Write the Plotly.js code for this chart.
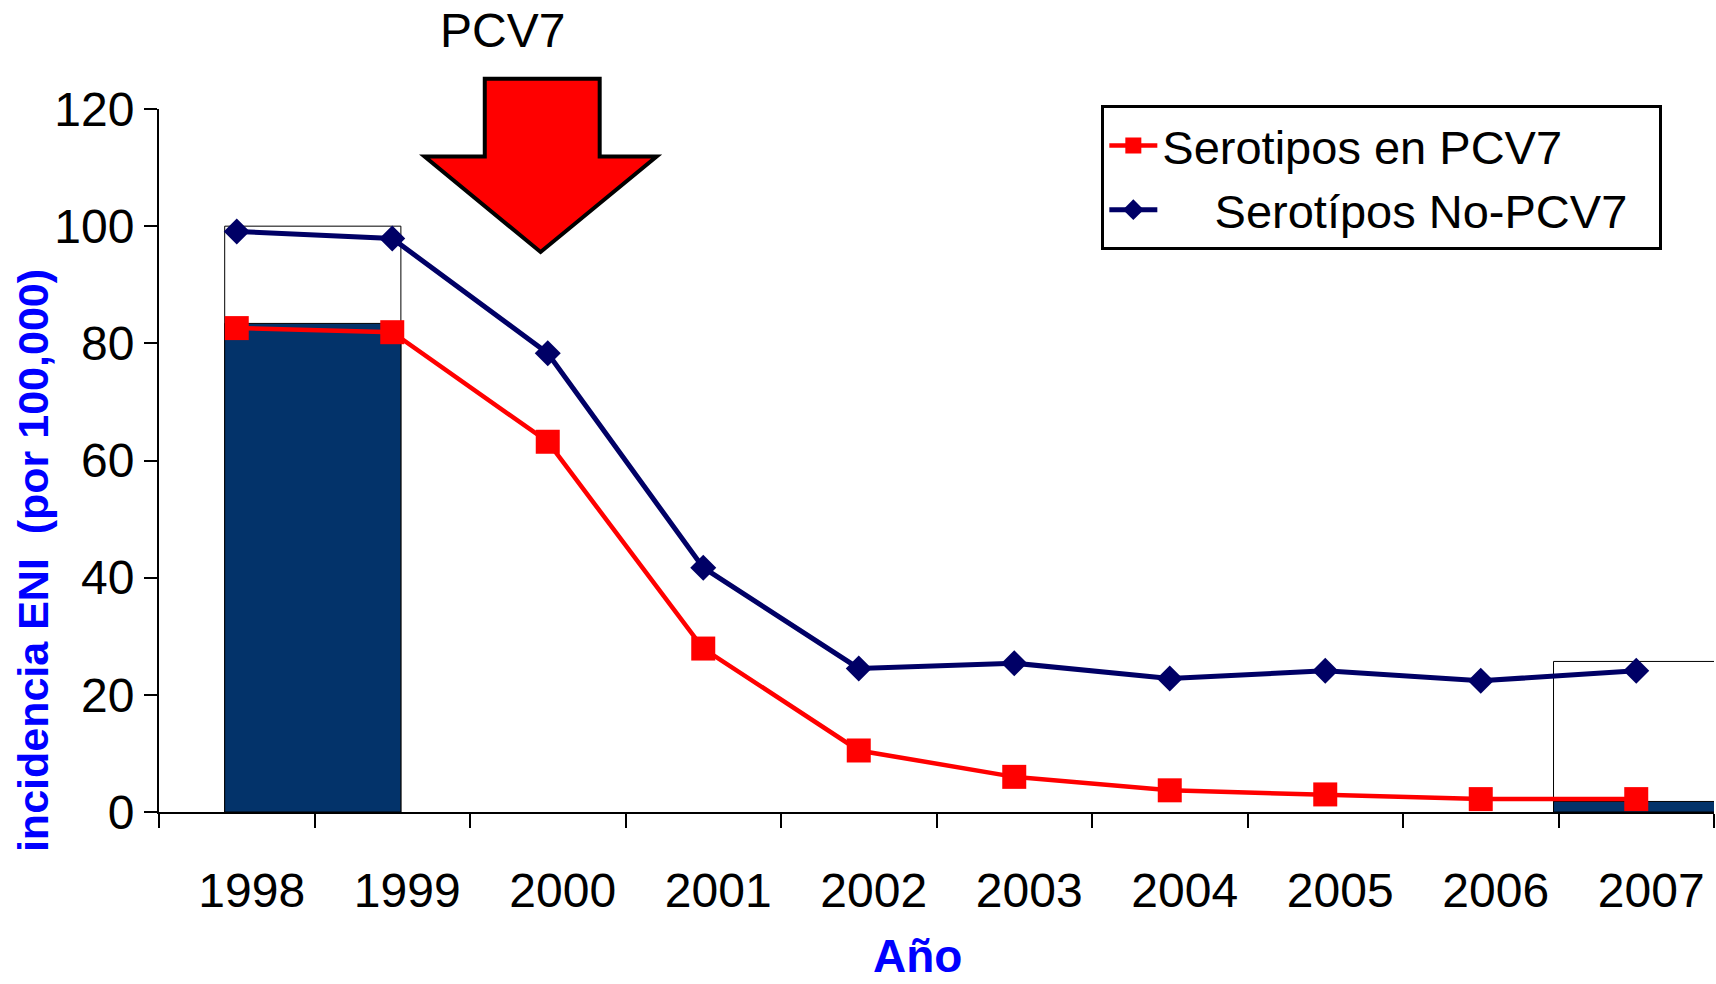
<!DOCTYPE html>
<html>
<head>
<meta charset="utf-8">
<script src="https://cdn.plot.ly/plotly-3.0.1.min.js"></script>
<style>
  html, body { margin: 0; padding: 0; background: #ffffff; }
  #chart { width: 1716px; height: 984px; }
</style>
</head>
<body>
<div id="chart"></div>
<script>
// ---- data ----
const years = ['1998','1999','2000','2001','2002','2003','2004','2005','2006','2007'];
const serotiposPCV7 = [82.6, 81.9, 63.2, 27.9, 10.5, 6.0, 3.7, 3.0, 2.2, 2.2];
const serotiposNoPCV7 = [99.1, 97.9, 78.3, 41.7, 24.5, 25.4, 22.8, 24.1, 22.4, 24.1];
const barYears = ['1998', '2007'];
const barTotal = [100, 25.7];
const barNavy = [83.4, 1.8];
const seriesNames = ['Serotipos en PCV7', '\u00a0\u00a0\u00a0\u00a0Serotípos No-PCV7\u00a0\u00a0'];

const FONT = 'Liberation Sans, Arial, sans-serif';

const traces = [
  {
    type: 'bar', x: barYears, y: barTotal,
    width: 1.133, offset: [-0.0775, -0.532],
    marker: { color: '#ffffff', line: { color: '#000000', width: 1 } },
    showlegend: false, hoverinfo: 'skip'
  },
  {
    type: 'bar', x: barYears, y: barNavy,
    width: 1.133, offset: [-0.0775, -0.532],
    marker: { color: '#03336A', line: { color: '#000000', width: 1 } },
    showlegend: false, hoverinfo: 'skip'
  },
  {
    type: 'scatter', mode: 'lines+markers', x: years, y: serotiposPCV7,
    name: seriesNames[0],
    line: { color: '#FF0000', width: 4.5 },
    marker: { symbol: 'square', size: 24, color: '#FF0000' }
  },
  {
    type: 'scatter', mode: 'lines+markers', x: years, y: serotiposNoPCV7,
    name: seriesNames[1],
    line: { color: '#000066', width: 5 },
    marker: { symbol: 'diamond', size: 20, color: '#000066' }
  }
];

const L = 159, W = 1555, B = 812, H = 703;
function px(x) { return ((x - L) / W).toFixed(4); }
function py(y) { return ((B - y) / H).toFixed(4); }
const arrowPts = [[484.8,78.8],[599.7,78.8],[599.7,156.5],[656.6,156.5],[540.6,252],[424.6,156.5],[484.8,156.5]];
const arrowPath = 'M' + arrowPts.map(p => px(p[0]) + ',' + py(p[1])).join(' L') + ' Z';

const layout = {
  width: 1716, height: 984,
  margin: { l: L, r: 1716 - L - W, t: B - H, b: 984 - B, pad: 0 },
  paper_bgcolor: '#ffffff', plot_bgcolor: '#ffffff',
  font: { family: FONT, color: '#000000', size: 46 },
  barmode: 'overlay',
  showlegend: true,
  legend: {
    x: 0.606, y: 1.005, xanchor: 'left', yanchor: 'top',
    bgcolor: '#ffffff', bordercolor: '#000000', borderwidth: 3,
    font: { family: FONT, size: 47, color: '#000000' },
    itemwidth: 48
  },
  xaxis: {
    type: 'category', categoryorder: 'array', categoryarray: years,
    range: [-0.5, 9.5], fixedrange: true,
    showline: true, linecolor: '#000000', linewidth: 2,
    ticks: 'outside', tickson: 'boundaries', ticklen: 14, tickwidth: 2, tickcolor: '#000000',
    showgrid: false, zeroline: false,
    tickfont: { family: FONT, size: 48, color: '#000000' },
    ticklabelshift: 15, ticklabelstandoff: 35
  },
  yaxis: {
    range: [0, 120], dtick: 20, fixedrange: true,
    showline: true, linecolor: '#000000', linewidth: 2,
    ticks: 'outside', ticklen: 13, tickwidth: 2, tickcolor: '#000000',
    showgrid: false, zeroline: false,
    tickfont: { family: FONT, size: 48, color: '#000000' },
    ticklabelstandoff: 0
  },
  shapes: [
    { type: 'path', xref: 'paper', yref: 'paper', path: arrowPath,
      fillcolor: '#FF0000', line: { color: '#000000', width: 4 }, layer: 'above' }
  ],
  annotations: [
    { text: 'PCV7', xref: 'paper', yref: 'paper', x: px(502), y: py(31),
      xanchor: 'center', yanchor: 'middle', showarrow: false,
      font: { family: FONT, size: 48, color: '#000000' } },
    { text: '<b>incidencia ENI  (por 100,000)</b>', xref: 'paper', yref: 'paper',
      x: px(33), y: py(561), xanchor: 'center', yanchor: 'middle', textangle: -90,
      showarrow: false, font: { family: FONT, size: 43, color: '#0000FF' } },
    { text: '<b>Año</b>', xref: 'paper', yref: 'paper', x: px(917), y: py(984),
      xanchor: 'center', yanchor: 'bottom', showarrow: false,
      font: { family: FONT, size: 46, color: '#0000FF' } }
  ]
};

Plotly.newPlot('chart', traces, layout, { staticPlot: true, displayModeBar: false });
</script>
</body>
</html>
